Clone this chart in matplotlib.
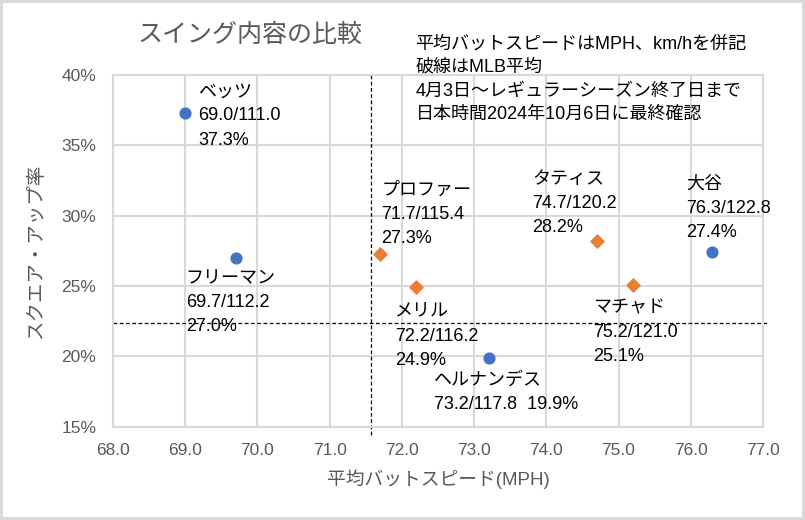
import matplotlib
matplotlib.use("Agg")
import matplotlib.pyplot as plt
from matplotlib.ticker import FuncFormatter

plt.rcParams['font.family'] = ['Liberation Sans', 'Noto Sans CJK JP', 'DejaVu Sans']

# data
blue_names = ["ベッツ", "フリーマン", "ヘルナンデス", "大谷"]
blue_mph = [69.0, 69.7, 73.2, 76.3]
blue_kmh = [111.0, 112.2, 117.8, 122.8]
blue_rate = [37.3, 27.0, 19.9, 27.4]

orange_names = ["プロファー", "メリル", "タティス", "マチャド"]
orange_mph = [71.7, 72.2, 74.7, 75.2]
orange_kmh = [115.4, 116.2, 120.2, 121.0]
orange_rate = [27.3, 24.9, 28.2, 25.1]

mlb_avg_mph = 71.57
mlb_avg_rate = 22.34

x_ticks = [68.0, 69.0, 70.0, 71.0, 72.0, 73.0, 74.0, 75.0, 76.0, 77.0]
y_ticks = [15, 20, 25, 30, 35, 40]

notes = ["平均バットスピードはMPH、km/hを併記",
         "破線はMLB平均",
         "4月3日～レギュラーシーズン終了日まで",
         "日本時間2024年10月6日に最終確認"]

# label placement: (dx, dy) in pixels, vertical alignment
blue_pos = [(13, -3, 'center'), (-50, -12, 'top'), (-55, -14, 'top'), (-26, 11, 'bottom')]
orange_pos = [(1, 7, 'bottom'), (-21, -16, 'top'), (-65, 5, 'bottom'), (-40, -15, 'top')]

fig = plt.figure(figsize=(8.05, 5.2), dpi=100)
fig.patch.set_edgecolor('#d9d9d9')
fig.patch.set_linewidth(3)
ax = fig.add_axes([0.1404, 0.1794, 0.8074, 0.6764])

gray = '#595959'
ax.set_xlim(68, 77)
ax.set_ylim(15, 40)
ax.set_xticks(x_ticks)
ax.set_yticks(y_ticks)
ax.xaxis.set_major_formatter(FuncFormatter(lambda v, p: "%.1f" % v))
ax.yaxis.set_major_formatter(FuncFormatter(lambda v, p: "%d%%" % v))
ax.tick_params(length=0, labelsize=12.5, labelcolor=gray)
ax.tick_params(axis='x', pad=12)
ax.tick_params(axis='y', pad=12)
ax.grid(True, color='#d9d9d9', linewidth=1.5)
ax.set_axisbelow(True)
for s in ax.spines.values():
    s.set_color('#d9d9d9')
    s.set_linewidth(1.5)

ax.plot([mlb_avg_mph, mlb_avg_mph], [14.4, 40], color='black', linestyle=(0, (3, 2)),
        linewidth=0.9, clip_on=False, zorder=2)
ax.plot([68, 77.06], [mlb_avg_rate, mlb_avg_rate], color='black', linestyle=(0, (3, 2)),
        linewidth=0.9, clip_on=False, zorder=2)

ax.scatter(blue_mph, blue_rate, s=60, marker='o', color='#4472C4', zorder=3)
ax.scatter(orange_mph, orange_rate, s=45, marker='D', color='#ED7D31', zorder=3)

def put_labels(names, mph, kmh, rate, pos):
    for i in range(len(names)):
        if names[i] == "ヘルナンデス":
            txt = "%s\n%.1f/%.1f  %.1f%%" % (names[i], mph[i], kmh[i], rate[i])
        else:
            txt = "%s\n%.1f/%.1f\n%.1f%%" % (names[i], mph[i], kmh[i], rate[i])
        dx, dy, va = pos[i]
        ax.annotate(txt, (mph[i], rate[i]), xytext=(dx, dy), textcoords='offset pixels',
                    ha='left', va=va, fontsize=13, color='black', linespacing=1.55,
                    zorder=4)

put_labels(blue_names, blue_mph, blue_kmh, blue_rate, blue_pos)
put_labels(orange_names, orange_mph, orange_kmh, orange_rate, orange_pos)

ax.set_xlabel("平均バットスピード(MPH)", fontsize=13.5, color=gray, labelpad=8)
ax.set_ylabel("スクエア・アップ率", fontsize=14, color=gray, labelpad=12)

fig.text(0.311, 0.933, "スイング内容の比較", fontsize=18, color=gray, ha='center', va='center')
fig.text(0.516, 0.932, "\n".join(notes), fontsize=13, color='black', ha='left', va='top',
         linespacing=1.5)

fig.savefig("out.png", dpi=100)
